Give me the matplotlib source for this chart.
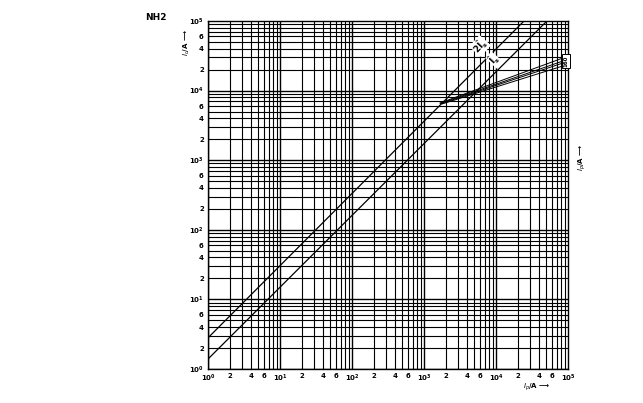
import matplotlib.pyplot as plt
from matplotlib.ticker import FixedLocator, FixedFormatter

# peak current lines
line_low_x = [1, 51000]
line_low_y = [1.39, 100000]
line_up_x = [1, 24500]
line_up_y = [2.8, 100000]

# fuse let-through band (start / end points)
fuse_x0 = [1668, 1690, 1750, 1800]
fuse_y0 = [6640, 6550, 6500, 6450]
fuse_x1 = [85000, 85000, 85000, 85000]
fuse_y1 = [29400, 26600, 24900, 22600]

decades = [0, 1, 2, 3, 4, 5]
minor_labels = ['2', '4', '6']

fig = plt.figure(figsize=(6.43, 4.03), dpi=100)
ax = fig.add_axes([208 / 643, 34 / 403, 360 / 643, 348 / 403])
ax.set_xscale('log')
ax.set_yscale('log')
ax.set_xlim(1, 1e5)
ax.set_ylim(1, 1e5)

# grid lines at 1..9 of every decade
for d in decades[:-1]:
    for m in range(1, 10):
        v = m * 10 ** d
        lw = 1.0 if m == 1 else 0.8
        ax.axvline(v, color='black', lw=lw, zorder=1)
        ax.axhline(v, color='black', lw=lw, zorder=1)

# tick labels
ticks = []
labels = []
for d in decades:
    ticks.append(10 ** d)
    labels.append(r'$\mathbf{10^{%d}}$' % d)
    if d < 5:
        for s in minor_labels:
            ticks.append(int(s) * 10 ** d)
            labels.append(s)
for axis in (ax.xaxis, ax.yaxis):
    axis.set_major_locator(FixedLocator(ticks))
    axis.set_major_formatter(FixedFormatter(labels))
    axis.set_minor_locator(FixedLocator([]))
ax.tick_params(which='both', length=0, labelsize=5, pad=3)
for t in ax.get_xticklabels() + ax.get_yticklabels():
    t.set_fontweight('bold')

for sp in ax.spines.values():
    sp.set_linewidth(1.0)

ax.plot(line_low_x, line_low_y, color='black', lw=0.9, zorder=3)
ax.plot(line_up_x, line_up_y, color='black', lw=0.9, zorder=3)

for i in range(len(fuse_x0)):
    ax.plot([fuse_x0[i], fuse_x1[i]], [fuse_y0[i], fuse_y1[i]],
            color='black', lw=0.7, zorder=3)

ax.text(6000, 43800, r'$\mathbf{2\hat{I}_s}$', rotation=48, fontsize=6.5,
        ha='center', va='center', zorder=4,
        bbox=dict(facecolor='white', edgecolor='none', pad=0.1))
ax.text(9400, 27600, r'$\mathbf{\hat{I}_s}$', rotation=48, fontsize=6.5,
        ha='center', va='center', zorder=4,
        bbox=dict(facecolor='white', edgecolor='none', pad=0.1))

ax.text(93000, 26500, '160', rotation=90, fontsize=4, fontweight='bold',
        ha='center', va='center', zorder=5, clip_on=False,
        bbox=dict(boxstyle='square,pad=0.3', facecolor='white',
                  edgecolor='black', lw=0.7))

fig.text(145 / 643, 1 - 18 / 403, 'NH2', fontsize=6.5, fontweight='bold',
         ha='left', va='center')
fig.text(187 / 643, 1 - 42 / 403, r'$I_c$/A ⟶', rotation=90, fontsize=5,
         fontweight='bold', ha='center', va='center')
fig.text(582 / 643, 1 - 157 / 403, r'$I_p$/A ⟶', rotation=90, fontsize=5,
         fontweight='bold', ha='center', va='center')
fig.text(537 / 643, 1 - 387 / 403, r'$I_p$/A ⟶', fontsize=5,
         fontweight='bold', ha='center', va='center')

fig.savefig('out.png', dpi=100)
